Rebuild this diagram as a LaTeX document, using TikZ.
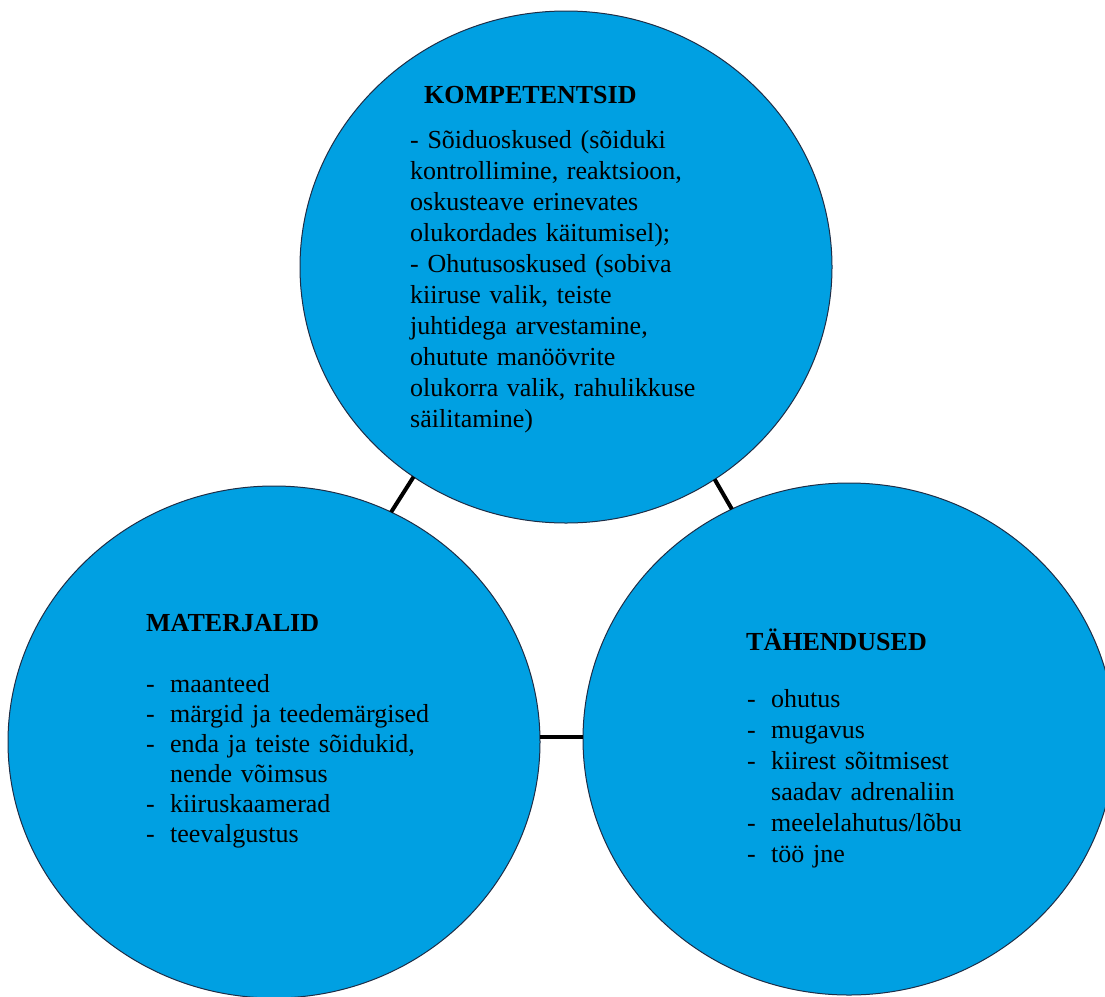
\documentclass[tikz,border=0pt]{standalone}
\usepackage{fontspec}
\setmainfont{Liberation Serif}
\usetikzlibrary{shapes.geometric}
\definecolor{ringblue}{RGB}{0,160,226}
\definecolor{ringedge}{RGB}{30,45,70}
\newcommand{\dashitem}{\makebox[24pt][l]{-}}
\newcommand{\dashcont}{\hspace*{24pt}}
\begin{document}
\begin{tikzpicture}[x=1pt,y=-1pt,
        ring/.style={ellipse,draw=ringedge,line width=1pt,fill=ringblue,
            minimum width=532pt,minimum height=512pt,inner sep=0pt,outer sep=0pt},
        link/.style={line width=4pt},
        head/.style={anchor=base west,inner sep=0pt,font=\fontsize{26}{31}\selectfont\bfseries},
        body/.style={anchor=base west,inner sep=0pt,align=left,text width=430pt,
            font=\fontsize{26}{#1}\selectfont}]
        \useasboundingbox (0,0) rectangle (1105,996);
        %% circles
        \node[ring] (komp) at (566,267) {};
        \node[ring] (mat) at (274,742) {};
        \node[ring] (tah) at (849,739) {};
        %% links
        \draw[link] (mat.63) -- (komp.234);
        \draw[link] (komp.305) -- (tah.117);
        \draw[link] (mat.1) -- (mat.1 -| tah.west);
        %% top
        \node[head] (kompt) at (424,103) {KOMPETENTSID};
        \node[body=31] (kompl) at (410,148) {- Sõiduoskused (sõiduki\\
            kontrollimine, reaktsioon,\\
            oskusteave erinevates\\
            olukordades käitumisel);\\
            - Ohutusoskused (sobiva\\
            kiiruse valik, teiste\\
            juhtidega arvestamine,\\
            ohutute manöövrite\\
            olukorra valik, rahulikkuse\\
            säilitamine)};
        %% left
        \node[head] (matt) at (146,631) {MATERJALID};
        \node[body=30] (matl) at (146,692) {\dashitem maanteed\\
            \dashitem märgid ja teedemärgised\\
            \dashitem enda ja teiste sõidukid,\\
            \dashcont nende võimsus\\
            \dashitem kiiruskaamerad\\
            \dashitem teevalgustus};
        %% right
        \node[head] (taht) at (746,650) {TÄHENDUSED};
        \node[body=31] (tahl) at (747,707) {\dashitem ohutus\\
            \dashitem mugavus\\
            \dashitem kiirest sõitmisest\\
            \dashcont saadav adrenaliin\\
            \dashitem meelelahutus/lõbu\\
            \dashitem töö jne};
    \end{tikzpicture}
\end{document}
